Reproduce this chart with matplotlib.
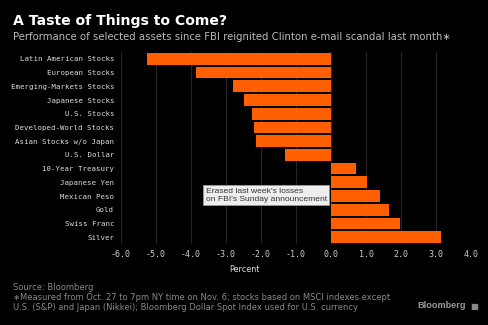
import matplotlib
matplotlib.use("Agg")
import matplotlib.pyplot as plt

categories = ["Latin American Stocks", "European Stocks", "Emerging-Markets Stocks",
              "Japanese Stocks", "U.S. Stocks", "Developed-World Stocks",
              "Asian Stocks w/o Japan", "U.S. Dollar", "10-Year Treasury",
              "Japanese Yen", "Mexican Peso", "Gold", "Swiss Franc", "Silver"]
values = [-5.26, -3.87, -2.81, -2.5, -2.27, -2.2, -2.14, -1.31,
          0.71, 1.03, 1.39, 1.65, 1.97, 3.15]
xticks = [-6, -5, -4, -3, -2, -1, 0, 1, 2, 3, 4]
xticklabels = ["%.1f" % t for t in xticks]

BG = "black"
BAR = "#ff5f00"

fig = plt.figure(figsize=(4.88, 3.25), dpi=100, facecolor=BG)
ax = fig.add_axes([121/488, 1-244/325, 350/488, 192/325], facecolor=BG)

ypos = list(range(len(categories)))
ax.barh(ypos, values, height=0.85, color=BAR, zorder=3)
ax.set_ylim(len(categories)-0.5, -0.5)
ax.set_xlim(-6, 4)
ax.set_xticks(xticks)
ax.set_xticklabels(xticklabels, family="DejaVu Sans Mono", fontsize=6.0, color="#cccccc")
ax.set_yticks(ypos)
ax.set_yticklabels(categories, family="DejaVu Sans Mono", fontsize=5.3, color="#dddddd")
ax.tick_params(axis="x", length=0, pad=4)
ax.tick_params(axis="y", length=0, pad=5)
for s in ax.spines.values():
    s.set_visible(False)
ax.grid(axis="x", color="#262626", linewidth=0.8, zorder=0)
ax.axvline(0, color="#444444", linewidth=0.8, zorder=1)

ax.text(-3.58, 9.93, "Erased last week's losses\non FBI's Sunday announcement",
        family="Liberation Sans", fontsize=6.1, color="#333333", ha="left", va="center",
        linespacing=1.2, zorder=5,
        bbox=dict(boxstyle="square,pad=0.3", facecolor="#eeeeee", edgecolor="#999999", linewidth=0.6))

fig.text(13/488, 1-21/325, "A Taste of Things to Come?", family="DejaVu Sans",
         fontsize=10.1, fontweight="bold", color="white", ha="left", va="center")
fig.text(13/488, 1-37/325, "Performance of selected assets since FBI reignited Clinton e-mail scandal last month\u2217",
         family="DejaVu Sans", fontsize=7.3, color="#bbbbbb", ha="left", va="center")
fig.text(0.5, 1-269/325, "Percent", family="DejaVu Sans", fontsize=5.8, color="#dddddd",
         ha="center", va="center")
fig.text(13/488, 1-288/325, "Source: Bloomberg", family="DejaVu Sans", fontsize=6.0,
         color="#888888", ha="left", va="center")
fig.text(13/488, 1-298/325, "\u2217Measured from Oct. 27 to 7pm NY time on Nov. 6; stocks based on MSCI indexes except",
         family="DejaVu Sans", fontsize=6.0, color="#888888", ha="left", va="center")
fig.text(13/488, 1-308/325, "U.S. (S&P) and Japan (Nikkei); Bloomberg Dollar Spot Index used for U.S. currency",
         family="DejaVu Sans", fontsize=6.0, color="#888888", ha="left", va="center")
fig.text(466/488, 1-306/325, "Bloomberg", family="Liberation Sans", fontsize=6.6,
         fontweight="bold", color="#999999", ha="right", va="center")
fig.text(478/488, 1-306/325, "\u25A0", family="DejaVu Sans", fontsize=6,
         color="#888888", ha="right", va="center")

fig.savefig("out.png", dpi=100, facecolor=BG)
